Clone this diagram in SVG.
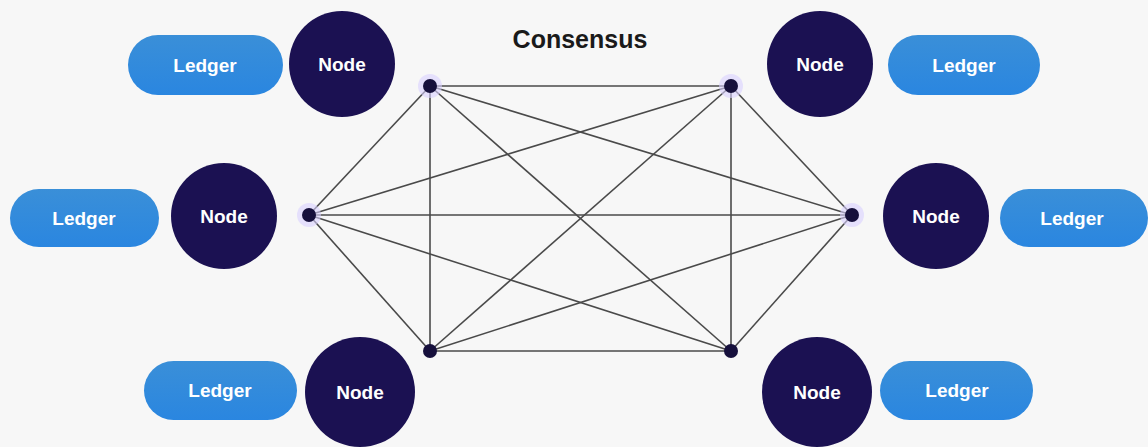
<svg xmlns="http://www.w3.org/2000/svg" width="1148" height="447" viewBox="0 0 1148 447">
  <style>
    .node-circle { fill: #1b1152; }
    .ledger { fill: url(#ledgerGrad); }
    .label { font-family: "Liberation Sans", Arial, sans-serif; font-size: 19px; font-weight: bold; fill: #ffffff; text-anchor: middle; dominant-baseline: central; }
    .title { font-family: "Liberation Sans", Arial, sans-serif; font-size: 25px; font-weight: bold; fill: #1a1a1a; text-anchor: middle; }
    .link { stroke: #4a4a4a; stroke-width: 1.6; fill: none; }
    .dot { fill: #16103c; }
    .halo { fill: #d8d0ff; opacity: 0.6; }
  </style>
  <defs>
    <linearGradient id="ledgerGrad" x1="0" y1="0" x2="0" y2="1">
      <stop offset="0" stop-color="#3a8fd8"/>
      <stop offset="1" stop-color="#2a86e0"/>
    </linearGradient>
  </defs>

  <rect width="1148" height="447" fill="#f7f7f7"/>

  <text class="title" x="580" y="48">Consensus</text>

  <!-- full mesh between the six consensus points -->
  <g id="connectors">
    <line class="link" x1="430" y1="86" x2="731" y2="86"/>
    <line class="link" x1="430" y1="86" x2="309" y2="215"/>
    <line class="link" x1="430" y1="86" x2="430" y2="351"/>
    <line class="link" x1="430" y1="86" x2="852" y2="215"/>
    <line class="link" x1="430" y1="86" x2="731" y2="351"/>
    <line class="link" x1="731" y1="86" x2="309" y2="215"/>
    <line class="link" x1="731" y1="86" x2="430" y2="351"/>
    <line class="link" x1="731" y1="86" x2="852" y2="215"/>
    <line class="link" x1="731" y1="86" x2="731" y2="351"/>
    <line class="link" x1="309" y1="215" x2="852" y2="215"/>
    <line class="link" x1="309" y1="215" x2="430" y2="351"/>
    <line class="link" x1="309" y1="215" x2="731" y2="351"/>
    <line class="link" x1="852" y1="215" x2="430" y2="351"/>
    <line class="link" x1="852" y1="215" x2="731" y2="351"/>
    <line class="link" x1="430" y1="351" x2="731" y2="351"/>
  </g>

  <g id="points">
    <circle class="halo" cx="430" cy="86" r="12"/>
    <circle class="halo" cx="731" cy="86" r="12"/>
    <circle class="halo" cx="309" cy="215" r="12"/>
    <circle class="halo" cx="852" cy="215" r="12"/>
    <circle class="dot" cx="430" cy="86" r="7"/>
    <circle class="dot" cx="731" cy="86" r="7"/>
    <circle class="dot" cx="309" cy="215" r="7"/>
    <circle class="dot" cx="852" cy="215" r="7"/>
    <circle class="dot" cx="430" cy="351" r="7"/>
    <circle class="dot" cx="731" cy="351" r="7"/>
  </g>

  <g id="node-top-left">
    <rect class="ledger" x="128" y="35" width="155" height="60" rx="30"/>
    <text class="label" x="205" y="65">Ledger</text>
    <circle class="node-circle" cx="342" cy="64" r="53"/>
    <text class="label" x="342" y="64">Node</text>
  </g>

  <g id="node-left">
    <rect class="ledger" x="10" y="189" width="149" height="58" rx="29"/>
    <text class="label" x="84" y="218">Ledger</text>
    <circle class="node-circle" cx="224" cy="216" r="53"/>
    <text class="label" x="224" y="216">Node</text>
  </g>

  <g id="node-bottom-left">
    <rect class="ledger" x="144" y="361" width="153" height="59" rx="29.5"/>
    <text class="label" x="220" y="390">Ledger</text>
    <circle class="node-circle" cx="360" cy="392" r="55"/>
    <text class="label" x="360" y="392">Node</text>
  </g>

  <g id="node-top-right">
    <circle class="node-circle" cx="820" cy="64" r="53"/>
    <text class="label" x="820" y="64">Node</text>
    <rect class="ledger" x="888" y="35" width="152" height="60" rx="30"/>
    <text class="label" x="964" y="65">Ledger</text>
  </g>

  <g id="node-right">
    <circle class="node-circle" cx="936" cy="216" r="53"/>
    <text class="label" x="936" y="216">Node</text>
    <rect class="ledger" x="1000" y="189" width="148" height="58" rx="29"/>
    <text class="label" x="1072" y="218">Ledger</text>
  </g>

  <g id="node-bottom-right">
    <circle class="node-circle" cx="817" cy="392" r="55"/>
    <text class="label" x="817" y="392">Node</text>
    <rect class="ledger" x="880" y="361" width="153" height="59" rx="29.5"/>
    <text class="label" x="957" y="390">Ledger</text>
  </g>
</svg>
